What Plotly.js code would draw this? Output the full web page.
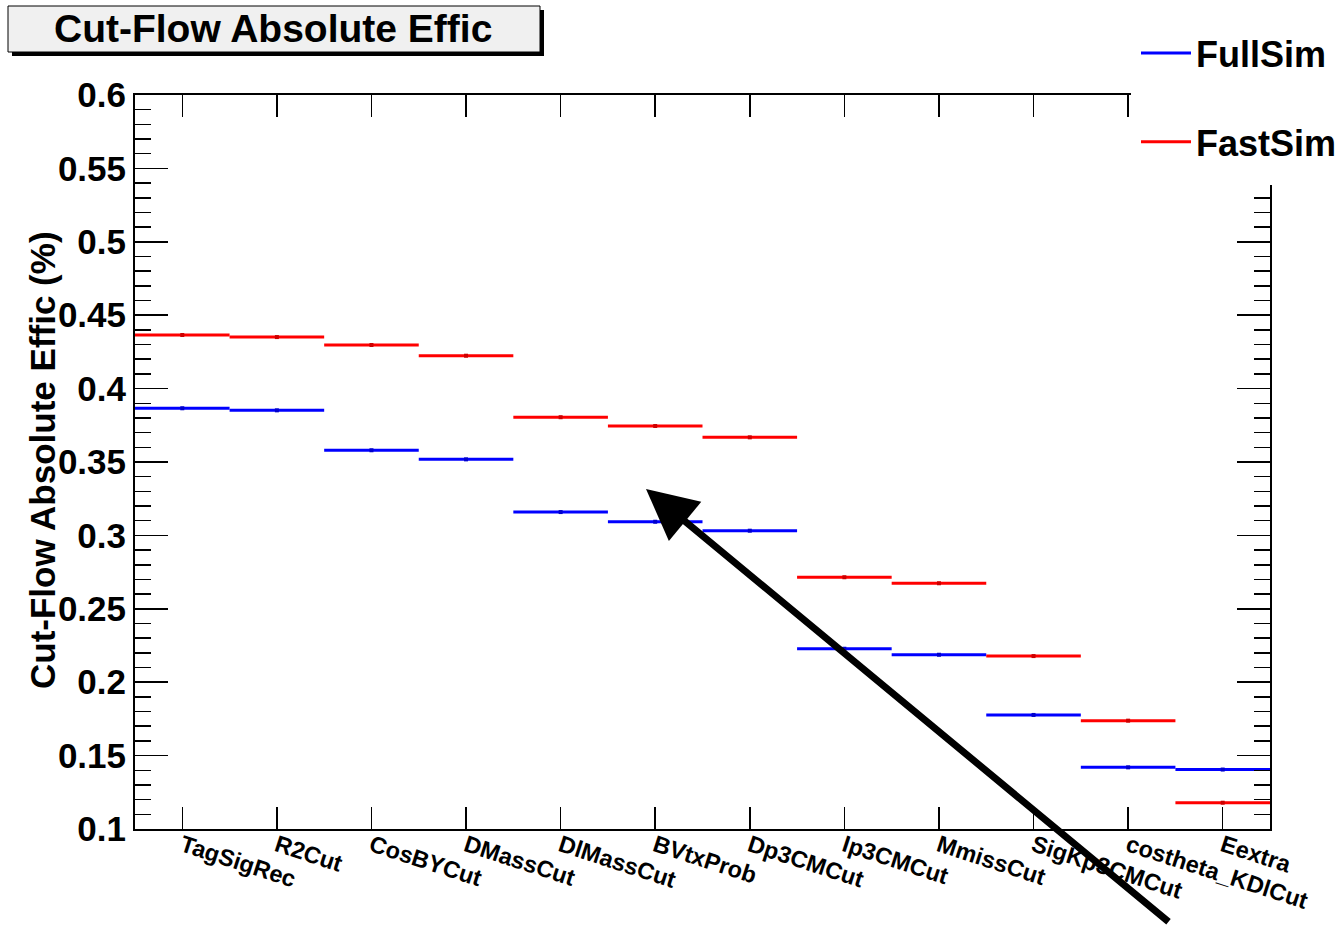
<!DOCTYPE html>
<html>
<head>
<meta charset="utf-8">
<script src="https://cdn.plot.ly/plotly-3.0.1.min.js"></script>
<style>html,body{margin:0;padding:0;background:#fff;}#chart{width:1340px;height:928px;}</style>
</head>
<body>
<div id="chart"></div>
<script>
// ---- data ----
const categories = ["TagSigRec","R2Cut","CosBYCut","DMassCut","DlMassCut","BVtxProb",
                    "Dp3CMCut","Ip3CMCut","MmissCut","SigKp3CMCut","costheta_KDlCut","Eextra"];
const fullSim = [0.3866,0.3852,0.3580,0.3518,0.3159,0.3093,0.3032,0.2228,0.2187,0.1777,0.1420,0.1405];
const fastSim = [0.4365,0.4351,0.4297,0.4224,0.3805,0.3745,0.3668,0.2715,0.2674,0.2178,0.1738,0.1179];
const yTickVals = [0.1,0.15,0.2,0.25,0.3,0.35,0.4,0.45,0.5,0.55,0.6];
const yTickText = ["0.1","0.15","0.2","0.25","0.3","0.35","0.4","0.45","0.5","0.55","0.6"];

const FONT = "Liberation Sans, Arial, Helvetica, sans-serif";
const idx = categories.map((c,i)=>i);

function steps(vals){
  const x=[], y=[];
  vals.forEach((v,i)=>{ x.push(i-0.5,i+0.5,null); y.push(v,v,null); });
  return {x,y};
}
const fs = steps(fullSim), ff = steps(fastSim);

const traces = [
  {type:'scatter', mode:'lines', name:'FullSim', legendgroup:'a', x:fs.x, y:fs.y,
   line:{color:'#0000ff', width:3}, connectgaps:false, hoverinfo:'skip'},
  {type:'scatter', mode:'lines', name:'FastSim', legendgroup:'b', x:ff.x, y:ff.y,
   line:{color:'#ff0000', width:3}, connectgaps:false, hoverinfo:'skip'},
  {type:'scatter', mode:'markers', showlegend:false, x:idx, y:fullSim,
   marker:{symbol:'square', size:4, color:'#0000cc'}},
  {type:'scatter', mode:'markers', showlegend:false, x:idx, y:fastSim,
   marker:{symbol:'square', size:4, color:'#cc0000'}}
];

const px = p => (p-135)/1135;
const py = p => (829-p)/734;

const layout = {
  width:1340, height:928,
  margin:{l:135, r:70, t:95, b:99, autoexpand:false},
  paper_bgcolor:'#ffffff', plot_bgcolor:'#ffffff',
  font:{family:FONT, color:'#000', weight:'bold'},
  showlegend:true,
  legend:{x:px(1136), y:py(23), xanchor:'left', yanchor:'top',
          font:{family:FONT, size:36, weight:'bold', color:'#000'},
          bgcolor:'rgba(0,0,0,0)', traceorder:'grouped', tracegroupgap:39,
          itemwidth:50},
  xaxis:{
    range:[-0.5, categories.length-0.5], tickmode:'array', tickvals:idx, ticktext:categories,
    tickangle:18, ticks:'inside', ticklen:22, tickwidth:1.5, tickcolor:'#000',
    ticklabelstandoff:-8,
    showline:true, linewidth:2, linecolor:'#000', mirror:'ticks',
    showgrid:false, zeroline:false,
    tickfont:{family:FONT, size:23.5, weight:'bold'}
  },
  yaxis:{
    range:[0.1,0.6], tickmode:'array', tickvals:yTickVals, ticktext:yTickText,
    ticks:'inside', ticklen:33, tickwidth:1.5, tickcolor:'#000',
    minor:{dtick:0.01, ticks:'inside', ticklen:16, tickwidth:1.5, tickcolor:'#000', showgrid:false},
    showline:true, linewidth:2, linecolor:'#000', mirror:'ticks',
    showgrid:false, zeroline:false,
    tickfont:{family:FONT, size:35, weight:'bold'}
  },
  shapes:[
    // white cover of the legend pad
    {type:'rect', xref:'paper', yref:'paper', x0:px(1131), x1:px(1345), y0:py(185), y1:py(-5),
     fillcolor:'#ffffff', line:{width:0}, layer:'above'},
    // title box shadow
    {type:'rect', xref:'paper', yref:'paper', x0:px(12), x1:px(544), y0:py(56), y1:py(10),
     fillcolor:'#000000', line:{width:0}, layer:'above'},
    // title box
    {type:'rect', xref:'paper', yref:'paper', x0:px(8), x1:px(540), y0:py(52), y1:py(6),
     fillcolor:'#f0f0f0', line:{color:'#000', width:1}, layer:'above'}
  ],
  annotations:[
    {xref:'paper', yref:'paper', x:px(273), y:py(29), xanchor:'center', yanchor:'middle',
     text:'Cut-Flow Absolute Effic', showarrow:false,
     font:{family:FONT, size:39, weight:'bold', color:'#000'}},
    {xref:'paper', yref:'paper', x:px(43), y:py(460), xanchor:'center', yanchor:'middle',
     text:'Cut-Flow Absolute Effic (%)', textangle:-90, showarrow:false,
     font:{family:FONT, size:35, weight:'bold', color:'#000'}},
    {xref:'paper', yref:'paper', x:px(646), y:py(489), text:'', showarrow:true,
     axref:'pixel', ayref:'pixel', ax:524, ay:434,
     arrowhead:2, arrowsize:1.45, arrowwidth:7, arrowcolor:'#000', standoff:0}
  ]
};

Plotly.newPlot('chart', traces, layout, {displayModeBar:false, staticPlot:true});
</script>
</body>
</html>
